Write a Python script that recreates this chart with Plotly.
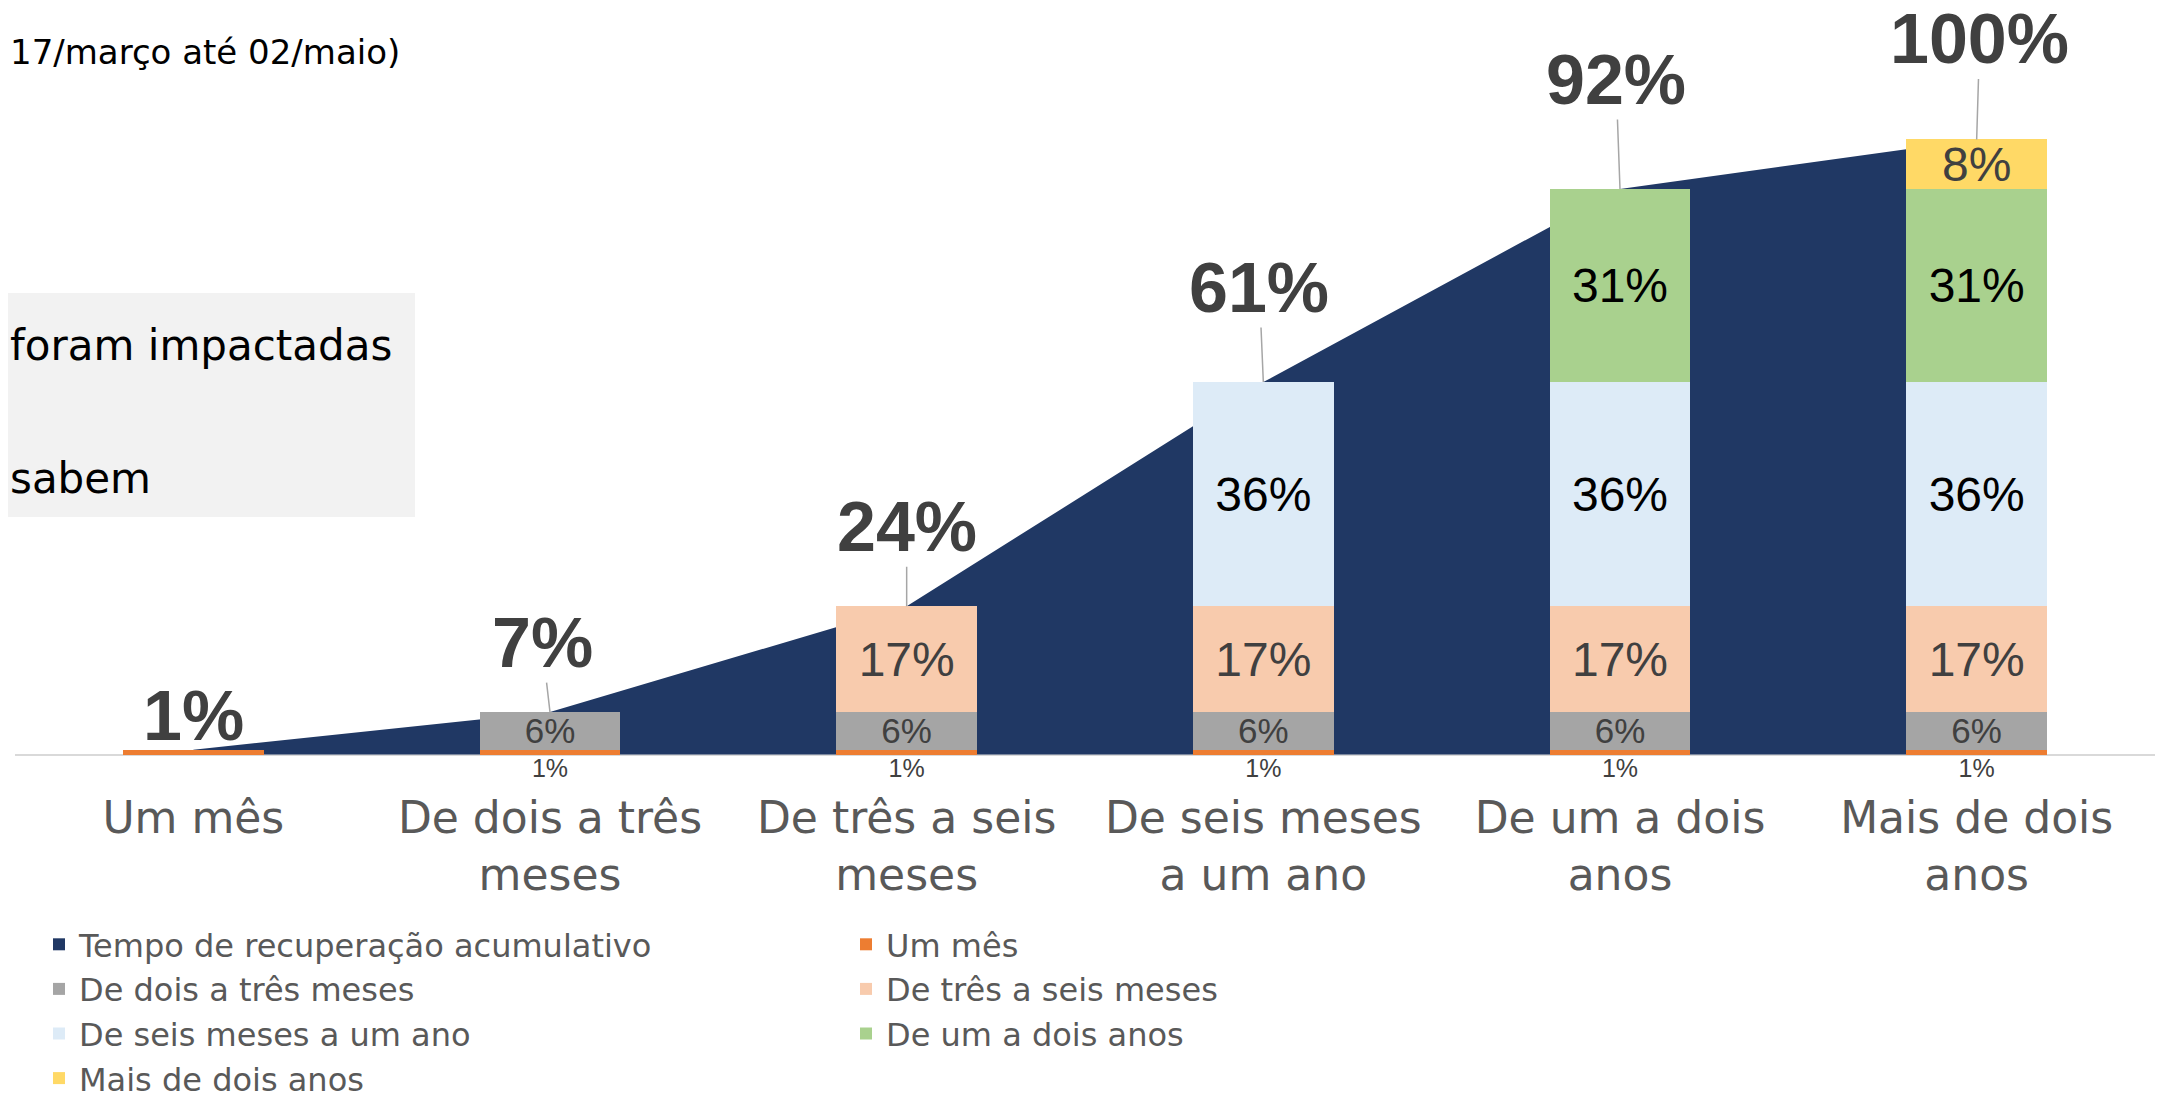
import plotly.graph_objects as go

# ---------------- data ----------------
categories = ["Um mês", "De dois a três meses", "De três a seis meses",
              "De seis meses a um ano", "De um a dois anos", "Mais de dois anos"]
tick_labels = ["Um mês", "De dois a três<br>meses", "De três a seis<br>meses",
               "De seis meses<br>a um ano", "De um a dois<br>anos", "Mais de dois<br>anos"]

area_name = "Tempo de recuperação acumulativo"
cumulativo = [0.8, 6.9, 24.1, 60.55, 91.95, 100.0]

series_names = ["Um mês", "De dois a três meses", "De três a seis meses",
                "De seis meses a um ano", "De um a dois anos", "Mais de dois anos"]
um_mes = [0.8, 0.8, 0.8, 0.8, 0.8, 0.8]
dois_tres = [0, 6.1, 6.1, 6.1, 6.1, 6.1]
tres_seis = [0, 0, 17.2, 17.2, 17.2, 17.2]
seis_ano = [0, 0, 0, 36.45, 36.45, 36.45]
um_dois = [0, 0, 0, 0, 31.4, 31.4]
mais_dois = [0, 0, 0, 0, 0, 8.05]

subtitle = "17/março até 02/maio)"
side_texts = ["foram impactadas", "sabem"]

# ---------------- style / geometry ----------------
S = 8                      # page body margin in the browser
W, H = 2167 - S, 1095 - S
PX_PER_UNIT = 6.155
BASE = 755 - S             # baseline (y=0) in figure pixels
YMIN = -3.0
YMAX = BASE / PX_PER_UNIT
ML, MR, MT = 15 - S, 12, 0
MB = H - int(round(BASE - YMIN * PX_PER_UNIT))
NAVY = "#203864"
colors = ["#ED7D31", "#A5A5A5", "#F8CBAD", "#DDEBF7", "#A9D18E", "#FFD966"]
text_colors = [None, "#404040", "#404040", "#000000", "#000000", "#404040"]
text_sizes = [0, 35, 48, 48, 48, 48]
REG = "DejaVu Sans"
NUM = "Liberation Sans"

pw = W - ML - MR
ph = H - MT - MB
def px_x(p):               # screen px -> paper x
    return (p - S - ML) / pw
def px_y(p):               # screen px -> paper y
    return (H - MB - (p - S)) / ph

def pct(v):
    return f"{int(v + 0.5)}%"

fig = go.Figure()

# cumulative area on base axes (drawn beneath the bars)
fig.add_trace(go.Scatter(
    x=categories, y=cumulativo, mode="none", fill="tozeroy",
    fillcolor=NAVY, name=area_name, showlegend=False, hoverinfo="skip",
    xaxis="x", yaxis="y"))

# legend proxy for the area (square swatch)
fig.add_trace(go.Bar(
    x=categories, y=[0] * len(categories), name=area_name,
    marker=dict(color=NAVY, line=dict(width=0)), xaxis="x", yaxis="y2",
    hoverinfo="skip"))

all_series = [um_mes, dois_tres, tres_seis, seis_ano, um_dois, mais_dois]
for k, (name, vals) in enumerate(zip(series_names, all_series)):
    if k == 0:
        texts = None
    else:
        texts = [pct(v) if v > 0 else "" for v in vals]
    fig.add_trace(go.Bar(
        x=categories, y=vals, name=name,
        marker=dict(color=colors[k], line=dict(width=0)),
        text=texts,
        textposition="inside" if texts else "none",
        insidetextanchor="middle", textangle=0, constraintext="none",
        textfont=dict(family=NUM, size=text_sizes[k] or 10,
                      color=text_colors[k] or "#404040"),
        xaxis="x", yaxis="y2", hoverinfo="x+y"))

# small "1%" labels below the axis for the "Um mês" segment (categories 2..6)
below_x = categories[1:]
below_y = [-2.6] * len(below_x)
fig.add_trace(go.Scatter(
    x=below_x, y=below_y, mode="text",
    text=[pct(v) for v in um_mes[1:]],
    textfont=dict(family=NUM, size=25, color="#404040"),
    showlegend=False, cliponaxis=False, hoverinfo="skip",
    xaxis="x", yaxis="y2"))

# big cumulative labels with leader lines
label_dx = [0, -8, 0, -4, -4, 3]
label_dy = [-34, -69, -79, -94, -109, -100]
for i, (cat, v) in enumerate(zip(categories, cumulativo)):
    use_arrow = abs(label_dy[i]) > 50
    fig.add_annotation(
        x=cat, y=v, xref="x", yref="y2",
        text="<b>" + pct(v) + "</b>",
        font=dict(family=NUM, size=70, color="#404040"),
        showarrow=use_arrow, arrowhead=0, arrowwidth=1.5,
        arrowcolor="#A6A6A6", ax=label_dx[i], ay=label_dy[i],
        axref="pixel", ayref="pixel", standoff=0, borderpad=0,
        yshift=0 if use_arrow else -label_dy[i],
        xshift=0 if use_arrow else label_dx[i])

# grey side box with texts
fig.add_shape(type="rect", xref="paper", yref="paper",
              x0=px_x(0), x1=px_x(415), y0=px_y(517), y1=px_y(293),
              fillcolor="#F2F2F2", line=dict(width=0), layer="below")
for t, yc in zip(side_texts, [345, 478]):
    fig.add_annotation(x=px_x(8), y=px_y(yc), xref="paper", yref="paper",
                       text=t, showarrow=False, xanchor="left", yanchor="middle",
                       font=dict(family=REG, size=42, color="#000000"))
fig.add_annotation(x=px_x(8), y=px_y(52), xref="paper", yref="paper",
                   text=subtitle, showarrow=False, xanchor="left", yanchor="middle",
                   font=dict(family=REG, size=34, color="#000000"))

fig.update_layout(
    template="none",
    width=W, height=H,
    margin=dict(l=ML, r=MR, t=MT, b=MB, autoexpand=False),
    paper_bgcolor="white", plot_bgcolor="rgba(0,0,0,0)",
    barmode="stack", bargap=0.605,
    showlegend=True,
    legend=dict(orientation="h", x=px_x(39), y=px_y(1106),
                xanchor="left", yanchor="bottom",
                entrywidth=762, entrywidthmode="pixels",
                traceorder="normal",
                font=dict(family=REG, size=32, color="#595959"),
                bgcolor="rgba(0,0,0,0)", borderwidth=0),
    xaxis=dict(type="category", categoryorder="array", categoryarray=categories,
               tickmode="array", tickvals=categories, ticktext=tick_labels,
               tickfont=dict(family=REG, size=44, color="#595959"),
               ticklabelstandoff=15, automargin=False,
               showline=False, showgrid=False, zeroline=False, ticks=""),
    yaxis=dict(range=[YMIN, YMAX], visible=True, showticklabels=False,
               showgrid=False, showline=False, ticks="",
               zeroline=True, zerolinecolor="#D9D9D9", zerolinewidth=2),
    yaxis2=dict(range=[YMIN, YMAX], visible=False, overlaying="y",
                showgrid=False, zeroline=False),
)

fig.write_html("out.html")
